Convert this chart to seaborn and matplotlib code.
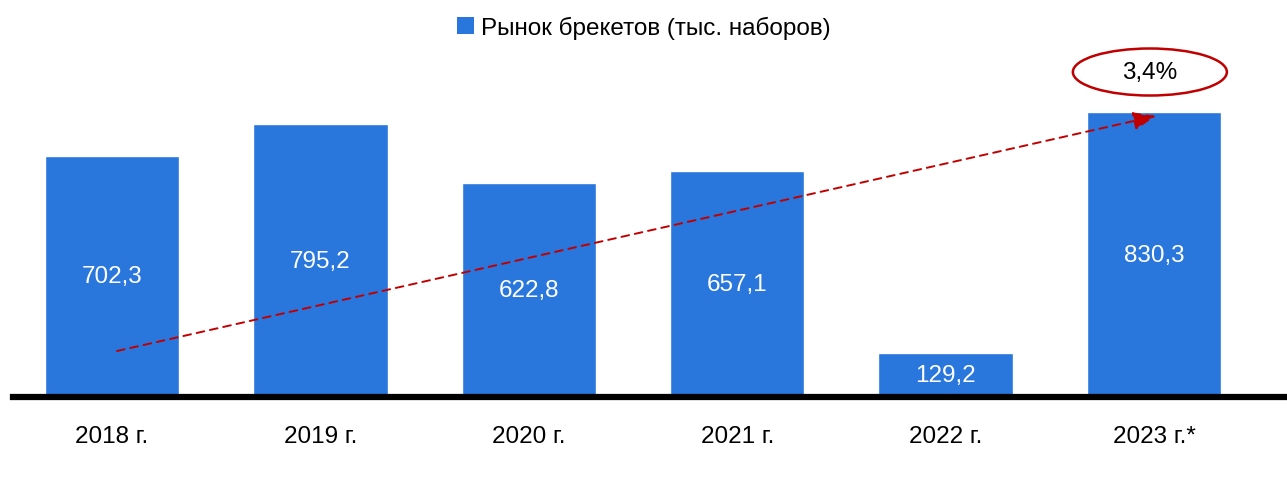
import matplotlib
matplotlib.use("Agg")
import matplotlib.pyplot as plt
from matplotlib import font_manager
from matplotlib.patches import Ellipse, Patch
import pandas as pd
import seaborn as sns

# данные
years = ["2018 г.", "2019 г.", "2020 г.", "2021 г.", "2022 г.", "2023 г.*"]
market = [702.3, 795.2, 622.8, 657.1, 129.2, 830.3]
cagr_label = "3,4%"
legend_label = "Рынок брекетов (тыс. наборов)"

blue = "#2976DC"
red = "#C00000"

sns.set_style("white")
names = {f.name for f in font_manager.fontManager.ttflist}
fam = "Liberation Sans Narrow" if "Liberation Sans Narrow" in names else "Liberation Sans"
plt.rcParams['font.family'] = [fam, 'DejaVu Sans']
plt.rcParams['text.color'] = 'black'
plt.rcParams['xtick.color'] = 'black'
fs = 20 if fam == "Liberation Sans Narrow" else 17.5

df = pd.DataFrame({"year": years, "value": market})

fig = plt.figure(figsize=(12.87, 4.85), dpi=100)
ax = fig.add_axes([13 / 1287, 87 / 485, 1 - 13 / 1287, (398 - 20.5) / 485])

sns.barplot(data=df, x="year", y="value", color=blue, width=0.645, ax=ax,
            saturation=1)

# подписи внутри столбцов
labels = [f"{v:.1f}".replace(".", ",") for v in market]
ax.bar_label(ax.containers[0], labels=labels, label_type="center",
             color="white", fontsize=fs)

ax.set_xlim(-0.475, 5.638)
ax.set_ylim(0, 1100)
ax.set_xlabel("")
ax.set_ylabel("")
ax.set_yticks([])
ax.tick_params(axis="x", length=0, pad=20, labelsize=fs, labelcolor="black")
for s in ["top", "right", "left"]:
    ax.spines[s].set_visible(False)
ax.spines["bottom"].set_linewidth(4.5)
ax.spines["bottom"].set_color("black")

# стрелка тренда
ax.annotate("", xy=(5.01, 819), xytext=(0.024, 134),
            arrowprops=dict(arrowstyle="-|>,head_length=1.4,head_width=0.55",
                            color=red, lw=1.4, linestyle=(0, (4, 3)),
                            shrinkA=0, shrinkB=0))

# овал с CAGR
ell = Ellipse((4.98, 947), width=0.739, height=137, fill=False,
              edgecolor=red, lw=1.8, clip_on=False)
ax.add_patch(ell)
ax.text(4.98, 947, cagr_label, ha="center", va="center", fontsize=fs,
        color="black")

handle = Patch(facecolor=blue, edgecolor="none")
fig.legend([handle], [legend_label], loc="center", bbox_to_anchor=(0.5, 1 - 28 / 485),
           frameon=False, fontsize=fs, handlelength=0.7, handleheight=0.7,
           handletextpad=0.3, labelcolor="black")

fig.savefig("out.png", dpi=100)
